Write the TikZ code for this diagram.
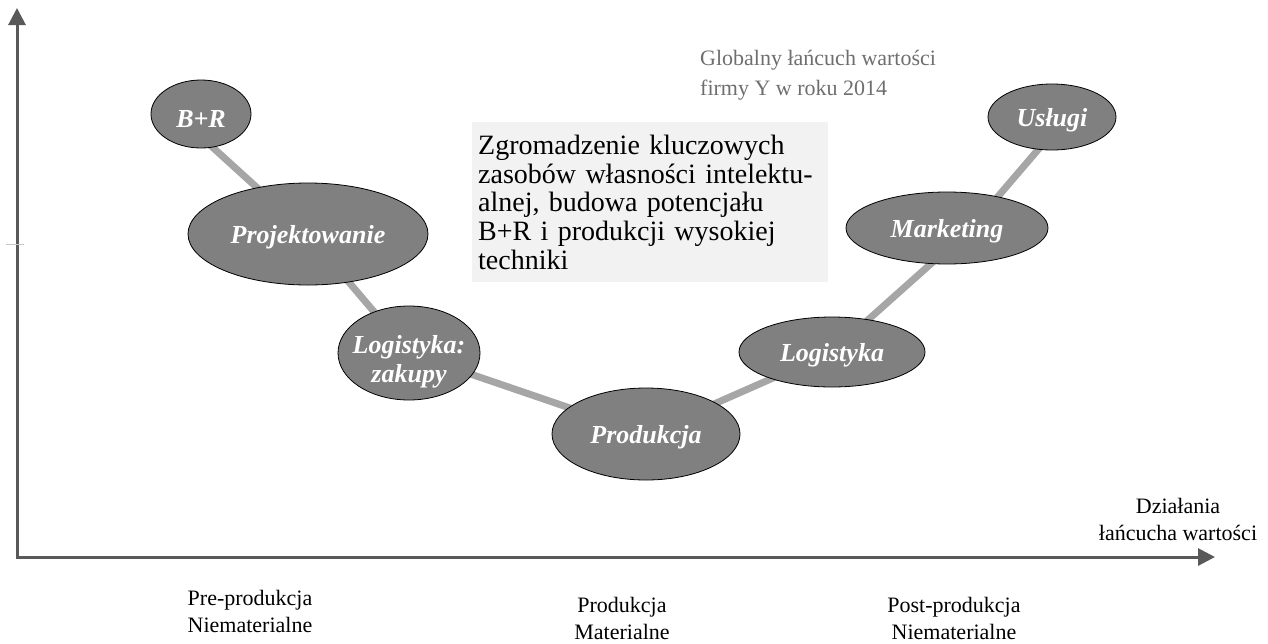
\documentclass[tikz,border=0pt]{standalone}
\usepackage{fontspec}
\setmainfont{Liberation Serif}
\usetikzlibrary{arrows.meta,shapes.geometric,backgrounds}
\definecolor{axisgray}{HTML}{595959}
\definecolor{linkgray}{HTML}{A6A6A6}
\definecolor{stagegray}{HTML}{808080}
\definecolor{boxgray}{HTML}{F2F2F2}
\definecolor{notegray}{HTML}{6E6E6E}
\tikzset{
  axis/.style={draw=axisgray, line width=3pt, line join=miter,
    arrows={Triangle[length=17pt,width=17pt]-Triangle[length=17pt,width=17pt]}},
  link/.style={draw=linkgray, line width=7pt, line join=round},
  stage/.style={ellipse, draw=black, line width=0.8pt, fill=stagegray, inner sep=0pt,
    text=white, align=center, text height=24pt, text depth=6pt,
    font=\fontsize{26}{27}\selectfont\bfseries\itshape},
  stagetext/.style={text=white, align=center, inner sep=0pt,
    font=\fontsize{26}{29}\selectfont\bfseries\itshape},
  infobox/.style={rectangle, fill=boxgray, anchor=north west, inner xsep=6pt, inner ysep=0pt,
    minimum width=356pt, minimum height=160pt, text width=344pt, align=left,
    font=\fontsize{28}{28.7}\selectfont},
  note/.style={anchor=base west, text=notegray, inner sep=0pt, font=\fontsize{22}{26}\selectfont},
  axislabel/.style={align=center, inner sep=0pt, font=\fontsize{22}{27}\selectfont}
}
\begin{document}
\begin{tikzpicture}[x=1pt,y=-1pt]
\useasboundingbox (0,0) rectangle (1268,643);

% axes
\coordinate (ytip) at (17,8);
\coordinate (xtip) at (1215,557);
\draw[axis] (ytip) |- (xtip);
\draw[gray!45, line width=0.6pt] (6,244) -- (24,244);

% value chain stages
\node[stage, minimum width=100pt, minimum height=68pt, text height=30pt, text depth=4pt] (br) at (201,114) {B+R};
\node[stage, minimum width=240pt, minimum height=102pt] (proj) at (308,234) {Projektowanie};
\node[stage, minimum width=142pt, minimum height=94pt] (zak) at (409,353) {};
\node[stagetext, anchor=base] (zakt) at ([yshift=-29pt]zak.center) {Logistyka:\\zakupy};
\node[stage, minimum width=188pt, minimum height=92pt] (prod) at (646,434) {Produkcja};
\node[stage, minimum width=186pt, minimum height=70pt] (log) at (832,352) {Logistyka};
\node[stage, minimum width=202pt, minimum height=72pt] (mkt) at (947,228) {Marketing};
\node[stage, minimum width=128pt, minimum height=66pt] (usl) at (1052,117) {Usługi};

% the chain itself, running behind the stages
\begin{pgfonlayer}{background}
\draw[link] ([xshift=-25pt]br.center) -- (proj.center) -- (zak.center) -- (prod.center)
  -- (log.center) -- ([xshift=24pt]mkt.center) -- ([xshift=14pt]usl.center);
\end{pgfonlayer}

% description box
\node[infobox] (info) at (472,122) {Zgromadzenie kluczowych\\
zasobów własności intelektu-\\
alnej, budowa potencjału\\
B+R i produkcji wysokiej\\
techniki};

% title note
\node[note] (t1) at (700,65) {Globalny łańcuch wartości};
\node[note] (t2) at (700,95) {firmy Y w roku 2014};

% axis labels
\node[axislabel] (xl) at (1178,519) {Działania\\łańcucha wartości};
\node[axislabel] (pre) at (250,611) {Pre-produkcja\\Niematerialne};
\node[axislabel] (mid) at (622,618) {Produkcja\\Materialne};
\node[axislabel] (post) at (954,618) {Post-produkcja\\Niematerialne};
\end{tikzpicture}
\end{document}
